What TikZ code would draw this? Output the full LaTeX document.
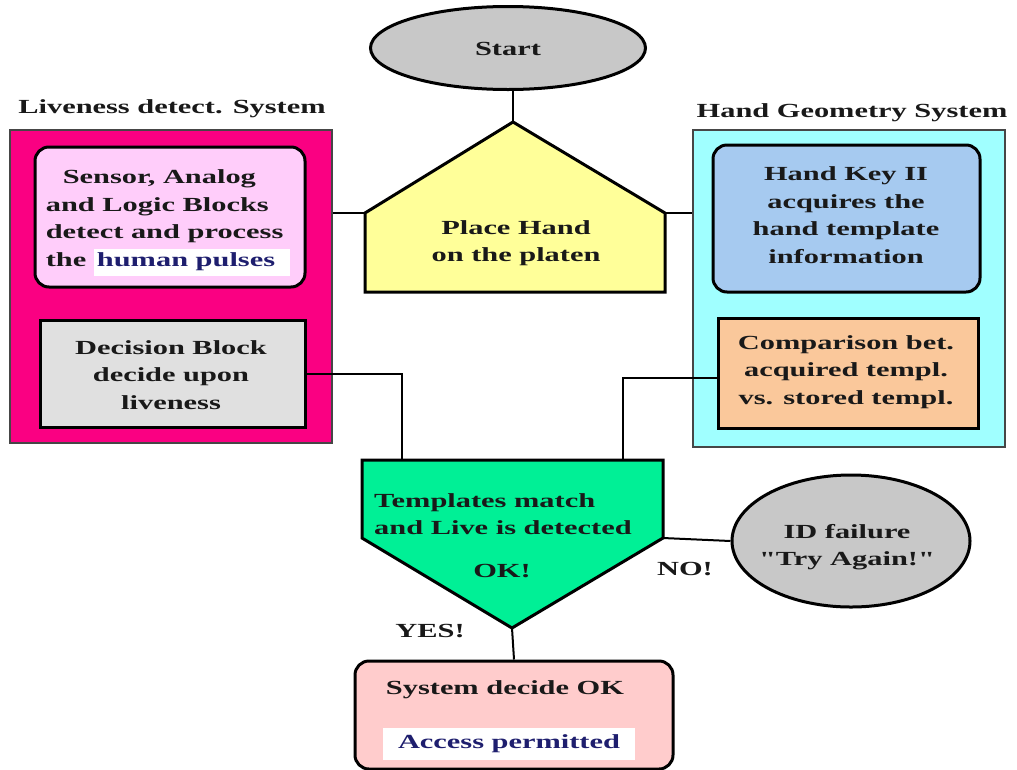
\documentclass[tikz,border=0pt]{standalone}
\usepackage{fontspec}
\setmainfont{Liberation Serif}[FakeStretch=1.52]
\newfontfamily\plainq{Liberation Serif}[FakeStretch=1.52]
\usetikzlibrary{shapes.geometric,calc}
\definecolor{pinkouter}{RGB}{250,0,130}
\definecolor{pinkinner}{RGB}{255,205,250}
\definecolor{grayin}{RGB}{224,224,224}
\definecolor{cyanouter}{RGB}{160,255,255}
\definecolor{bluein}{RGB}{166,202,240}
\definecolor{peach}{RGB}{250,200,155}
\definecolor{yellowc}{RGB}{255,255,153}
\definecolor{greenc}{RGB}{0,240,150}
\definecolor{grayell}{RGB}{200,200,200}
\definecolor{pinkbottom}{RGB}{255,204,204}
\definecolor{navy}{RGB}{30,30,110}
\definecolor{framegray}{RGB}{70,70,70}
\newcommand\fsz{\fontsize{20}{27.5}\selectfont\bfseries}
\newcommand\sq{{\plainq\bfseries\char34}}
\begin{document}
\begin{tikzpicture}[x=1pt,y=-1pt,
  every node/.style={font=\fsz, inner sep=0pt, text=black!90},
  outerbox/.style={draw=framegray, line width=1.5pt, rectangle},
  innerbox/.style={draw=black, line width=3pt, rectangle},
  roundbox/.style={draw=black, line width=3pt, rectangle, rounded corners=14pt},
  shapeline/.style={draw=black, line width=3pt, line join=miter},
  conn/.style={draw=black, line width=2pt},
  ellbox/.style={draw=black, line width=3pt, ellipse, fill=grayell}]
\useasboundingbox (0,0) rectangle (1017,769);

% Start
\node[ellbox, minimum width=275pt, minimum height=83pt] (start) at (508,48) {};
\node (starttxt) at (508,49) {Start};

% Place hand pentagon
\coordinate (pa) at (513,122);
\coordinate (pr) at (665,213);
\coordinate (prb) at (665,292);
\coordinate (plb) at (365,292);
\coordinate (pl) at (365,213);
\path[shapeline, fill=yellowc] (pa) -- (pr) -- (prb) -- (plb) -- (pl) -- cycle;
\node[align=center] (placetxt) at (516,243) {Place Hand\\on the platen};

% Titles
\node[anchor=base] (livetitle) at (172,113) {Liveness detect. System};
\node[anchor=base] (handtitle) at (852,117) {Hand Geometry System};

% Outer boxes
\node[outerbox, fill=pinkouter, minimum width=322pt, minimum height=313pt] (live) at (171,286.5) {};
\node[outerbox, fill=cyanouter, minimum width=312pt, minimum height=317pt] (hand) at (849,288.5) {};

% Inner boxes left
\node[roundbox, fill=pinkinner, minimum width=270pt, minimum height=140pt] (sensor) at (170,217) {};
\node[align=left] (sensortxt) at (168,223) {\hspace*{17pt}Sensor, Analog\\and Logic Blocks\\detect and process\\the {\setlength\fboxsep{3pt}\colorbox{white}{\rule[-7pt]{0pt}{21pt}\color{navy}human pulses\hspace{12pt}}}};
\node[innerbox, fill=grayin, minimum width=265pt, minimum height=107pt] (decision) at (172.5,373.5) {};
\node[align=center] (decisiontxt) at (171,375) {Decision Block\\decide upon\\liveness};

% Inner boxes right
\node[roundbox, fill=bluein, minimum width=267pt, minimum height=147pt] (handkey) at (846.5,218.5) {};
\node[align=center] (handkeytxt) at (846,215) {Hand Key II\\acquires the\\hand template\\information};
\node[innerbox, fill=peach, minimum width=260pt, minimum height=110pt] (compare) at (848,373) {};
\node[align=center] (comparetxt) at (846,372) {Comparison bet.\\acquired templ.\\vs. stored templ.};

% Green decision pentagon
\coordinate (gtl) at (362,460);
\coordinate (gtr) at (663,460);
\coordinate (gr) at (663,538);
\coordinate (gb) at (512,628);
\coordinate (gl) at (362,538);
\coordinate (gin1) at (402,460);
\coordinate (gin2) at (623,460);
\path[shapeline, fill=greenc] (gtl) -- (gtr) -- (gr) -- (gb) -- (gl) -- cycle;
\node[align=left, anchor=west] (matchtxt) at (374,514) {Templates match\\and Live is detected};
\node (oktxt) at (502,571) {OK!};
\node (notxt) at (685,569) {NO!};
\node (yestxt) at (430,631) {YES!};

% ID failure
\node[ellbox, minimum width=238pt, minimum height=132pt] (idfail) at (851,541) {};
\node[align=center] (idfailtxt) at (847,547) {ID failure\\\sq Try Again!\sq};

% Bottom box
\node[roundbox, fill=pinkbottom, minimum width=318pt, minimum height=108pt] (ok) at (514,715) {};
\node (oktitle) at (505,690) {System decide OK};
\node[fill=white, minimum width=252pt, minimum height=32pt, text=navy] (access) at (509,744) {Access permitted};

% Connectors
\draw[conn] (pa |- start.south) -- (pa);
\draw[conn] (pl) -- (pl -| live.east);
\draw[conn] (pr) -- (pr -| hand.west);
\draw[conn] (decision.east) -| (gin1);
\draw[conn] ([yshift=-5pt]compare.west) -| (gin2);
\draw[conn] (gr) -- (idfail.west);
\draw[conn] (gb) -- (ok.north);
\end{tikzpicture}
\end{document}
